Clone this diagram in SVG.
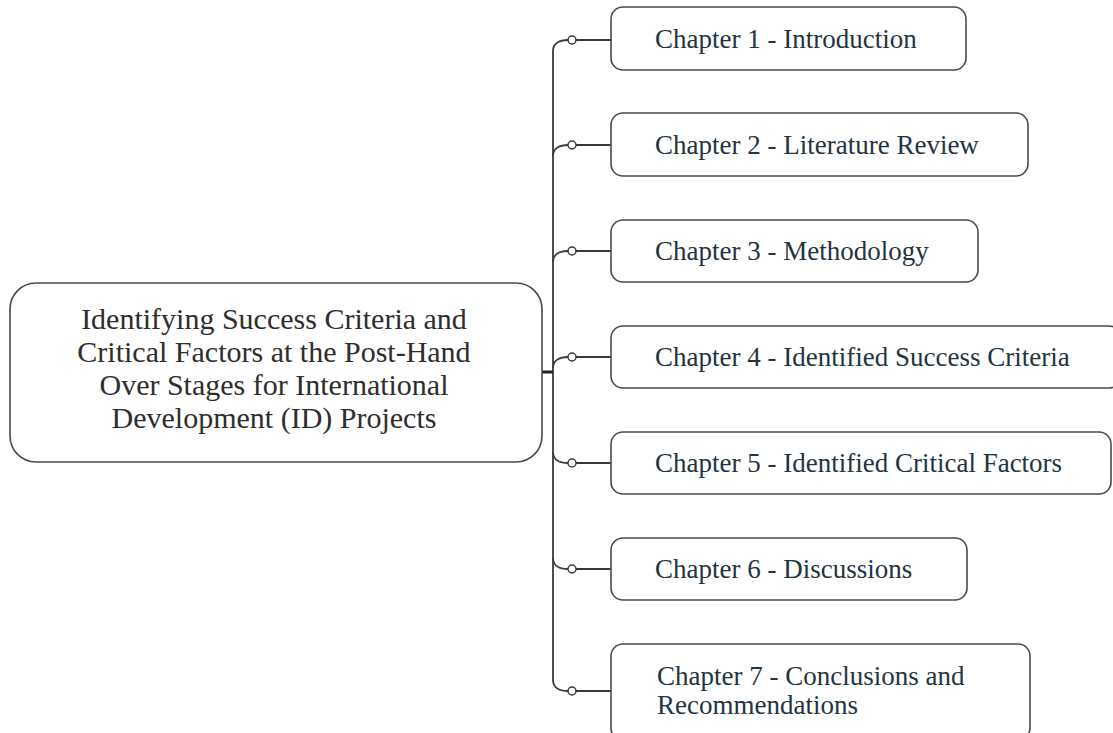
<svg xmlns="http://www.w3.org/2000/svg" width="1113" height="733" viewBox="0 0 1113 733">
  <style>
    .box { fill: #ffffff; stroke: #4a4a4a; stroke-width: 1.6; }
    .chap { font-family: "Liberation Serif", "Times New Roman", serif; font-size: 27px; fill: #22343f; }
    .root { font-family: "Liberation Serif", "Times New Roman", serif; font-size: 30px; fill: #2e2e2e; text-anchor: middle; }
    .wire { fill: none; stroke: #3a3a3a; stroke-width: 1.8; }
    .knob { fill: #ffffff; stroke: #3a3a3a; stroke-width: 1.5; }
  </style>
  <rect width="1113" height="733" fill="#ffffff"/>

  <!-- connectors: trunk, stub and branches with small open circles -->
  <g id="connectors">
    <line class="wire" x1="553" y1="51" x2="553" y2="680"/>
    <line x1="542" y1="372" x2="553" y2="372" stroke="#222" stroke-width="3"/>
    <!-- branch to chapter 1 -->
    <path class="wire" d="M553,51 C553,43 560,40 568,40"/>
    <circle class="knob" cx="572" cy="40" r="4"/>
    <line class="wire" x1="576" y1="40" x2="611" y2="40"/>
    <!-- branch to chapter 2 -->
    <path class="wire" d="M553,156 C553,148 560,145 568,145"/>
    <circle class="knob" cx="572" cy="145" r="4"/>
    <line class="wire" x1="576" y1="145" x2="611" y2="145"/>
    <!-- branch to chapter 3 -->
    <path class="wire" d="M553,262 C553,254 560,251 568,251"/>
    <circle class="knob" cx="572" cy="251" r="4"/>
    <line class="wire" x1="576" y1="251" x2="611" y2="251"/>
    <!-- branch to chapter 4 -->
    <path class="wire" d="M553,368 C553,360 560,357 568,357"/>
    <circle class="knob" cx="572" cy="357" r="4"/>
    <line class="wire" x1="576" y1="357" x2="611" y2="357"/>
    <!-- branch to chapter 5 -->
    <path class="wire" d="M553,452 C553,460 560,463 568,463"/>
    <circle class="knob" cx="572" cy="463" r="4"/>
    <line class="wire" x1="576" y1="463" x2="611" y2="463"/>
    <!-- branch to chapter 6 -->
    <path class="wire" d="M553,558 C553,566 560,569 568,569"/>
    <circle class="knob" cx="572" cy="569" r="4"/>
    <line class="wire" x1="576" y1="569" x2="611" y2="569"/>
    <!-- branch to chapter 7 -->
    <path class="wire" d="M553,680 C553,688 560,691 568,691"/>
    <circle class="knob" cx="572" cy="691" r="4"/>
    <line class="wire" x1="576" y1="691" x2="611" y2="691"/>
  </g>

  <g id="root">
    <rect class="box" x="10" y="283" width="532" height="179" rx="26"/>
    <text class="root" x="274" y="329">Identifying Success Criteria and</text>
    <text class="root" x="274" y="362">Critical Factors at the Post-Hand</text>
    <text class="root" x="274" y="395">Over Stages for International</text>
    <text class="root" x="274" y="428">Development (ID) Projects</text>
  </g>

  <g id="ch1">
    <rect class="box" x="611" y="7" width="355" height="63" rx="12"/>
    <text class="chap" x="655" y="48">Chapter 1 - Introduction</text>
  </g>
  <g id="ch2">
    <rect class="box" x="611" y="113" width="417" height="63" rx="12"/>
    <text class="chap" x="655" y="154">Chapter 2 - Literature Review</text>
  </g>
  <g id="ch3">
    <rect class="box" x="611" y="220" width="367" height="62" rx="12"/>
    <text class="chap" x="655" y="260">Chapter 3 - Methodology</text>
  </g>
  <g id="ch4">
    <rect class="box" x="611" y="326" width="510" height="62" rx="12"/>
    <text class="chap" x="655" y="366">Chapter 4 - Identified Success Criteria</text>
  </g>
  <g id="ch5">
    <rect class="box" x="611" y="432" width="500" height="62" rx="12"/>
    <text class="chap" x="655" y="472">Chapter 5 - Identified Critical Factors</text>
  </g>
  <g id="ch6">
    <rect class="box" x="611" y="538" width="356" height="62" rx="12"/>
    <text class="chap" x="655" y="578">Chapter 6 - Discussions</text>
  </g>
  <g id="ch7">
    <rect class="box" x="611" y="644" width="419" height="96" rx="12"/>
    <text class="chap" x="657" y="685">Chapter 7 - Conclusions and</text>
    <text class="chap" x="657" y="714">Recommendations</text>
  </g>
</svg>
